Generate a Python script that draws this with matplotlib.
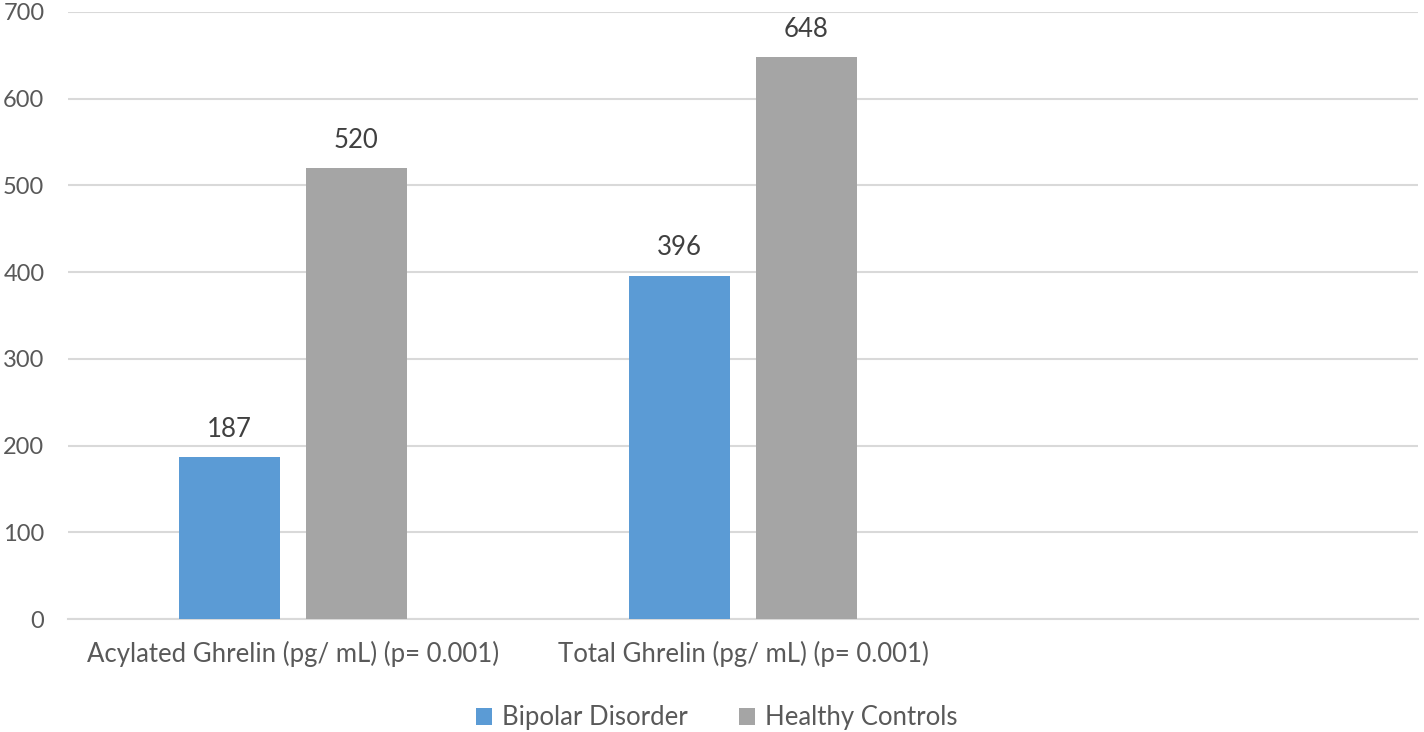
import matplotlib
matplotlib.use("Agg")
import matplotlib.pyplot as plt
import numpy as np

categories = ["Acylated Ghrelin (pg/ mL) (p= 0.001)", "Total Ghrelin (pg/ mL) (p= 0.001)", ""]
series_names = ["Bipolar Disorder", "Healthy Controls"]
bipolar = [187, 396, None]
healthy = [520, 648, None]
yticks = [0, 100, 200, 300, 400, 500, 600, 700]

colors = ["#5B9BD5", "#A5A5A5"]
txt = "#595959"
plt.rcParams['font.family'] = ['Lato', 'DejaVu Sans']
fs = 18.5

fig = plt.figure(figsize=(14.24, 7.32), dpi=100)
ax = fig.add_axes([68/1424, (732-619)/732, (1418-68)/1424, (619-12)/732])

x = np.arange(len(categories))
w = 0.2244
off = 0.141
for vals, o, c, name in [(bipolar, -off, colors[0], series_names[0]), (healthy, off, colors[1], series_names[1])]:
    xs = [xi + o for xi, v in zip(x, vals) if v is not None]
    vs = [v for v in vals if v is not None]
    bars = ax.bar(xs, vs, width=w, color=c, label=name, zorder=3)
    for b, v in zip(bars, vs):
        ax.annotate(str(v), (b.get_x() + b.get_width()/2, v), xytext=(0, 11),
                    textcoords="offset points", ha="center", va="bottom",
                    fontsize=fs, color="#404040")

ax.set_xlim(-0.5, 2.5)
ax.set_ylim(0, 700)
ax.set_yticks(yticks)
ax.set_xticks(x)
ax.set_xticklabels(categories)
ax.grid(axis="y", color="#D9D9D9", linewidth=1.5, zorder=0)
for s in ["top", "right", "left"]:
    ax.spines[s].set_visible(False)
ax.spines["bottom"].set_color("#D9D9D9")
ax.spines["bottom"].set_linewidth(1.5)
ax.tick_params(axis="both", length=0, labelcolor=txt)
ax.tick_params(axis="x", labelsize=fs, pad=16)
ax.tick_params(axis="y", labelsize=17, pad=17)

fig.legend(loc="center", bbox_to_anchor=(717/1424, 1 - 718/732), ncol=2, frameon=False,
           fontsize=fs, labelcolor=txt, handlelength=0.6, handleheight=0.6,
           handletextpad=0.4, columnspacing=2.0)
fig.savefig("out.png", dpi=100)
